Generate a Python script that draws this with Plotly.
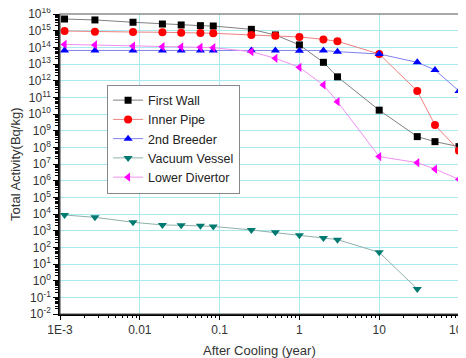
import plotly.graph_objects as go

# time after cooling (years)
t_all = [0.00114, 0.00274, 0.00822, 0.0192, 0.033, 0.0575, 0.0833,
         0.25, 0.5, 1, 2, 3, 10, 30, 50, 100]

first_wall = [5.0e15, 4.4e15, 3.2e15, 2.5e15, 2.2e15, 2.0e15, 1.9e15,
              1.2e15, 5.5e14, 1.4e14, 1.26e13, 1.7e12, 1.7e10, 4.4e8, 2.2e8, 1.1e8]
inner_pipe = [9.5e14, 8.7e14, 8.3e14, 8.0e14, 7.6e14, 7.3e14, 7.0e14,
              5.5e14, 5.0e14, 4.2e14, 3.0e14, 2.3e14, 4.0e13, 2.4e11, 2.2e9, 6.3e7]
breeder2 = [6.5e13, 6.5e13, 6.5e13, 6.5e13, 6.5e13, 6.5e13, 6.4e13,
            6.5e13, 6.5e13, 6.2e13, 6.5e13, 5.5e13, 4.0e13, 1.26e13, 4.4e12, 2.4e11]
vacuum_vessel = [8.7e3, 6.3e3, 3.2e3, 2.2e3, 2.1e3, 2.0e3, 1.8e3,
                 1.1e3, 800, 525, 360, 290, 50, 0.32]
lower_divertor = [1.5e14, 1.4e14, 1.2e14, 1.1e14, 1.05e14, 1.0e14, 9.5e13,
                  5.5e13, 2.2e13, 6.3e12, 5.5e11, 5.5e10, 2.8e7, 1.2e7, 5e6, 1.2e6]

x_tick_vals = [0.001, 0.01, 0.1, 1, 10, 100]
x_tick_text = ["1E-3", "0.01", "0.1", "1", "10", "100"]
y_exps = list(range(-2, 17))
x_title = "After Cooling (year)"
y_title = "Total Activity(Bq/kg)"

series = [
    ("First Wall", t_all, first_wall, "square", 7, "#000000", "#808080"),
    ("Inner Pipe", t_all, inner_pipe, "circle", 8, "#ff0000", "#f08080"),
    ("2nd Breeder", t_all, breeder2, "triangle-up", 8, "#0000ff", "#8080f0"),
    ("Vacuum Vessel", t_all[:len(vacuum_vessel)], vacuum_vessel, "triangle-down", 8, "#007a70", "#90b0ac"),
    ("Lower Divertor", t_all, lower_divertor, "triangle-left", 8, "#ff00ff", "#f090f0"),
]

fig = go.Figure()
for name, xs, ys, sym, sz, mc, lc in series:
    fig.add_trace(go.Scatter(
        x=xs, y=ys, name=name, mode="lines+markers",
        line=dict(color=lc, width=1),
        marker=dict(symbol=sym, color=mc, size=sz, line=dict(width=0)),
    ))

font_family = "Arial, Liberation Sans, sans-serif"
grid_c = "#a8eaf0"

# page body has an 8px default margin; figure is sized to fill the rest
fig.update_layout(
    width=458, height=350,
    margin=dict(l=52, r=7, t=6, b=44),
    paper_bgcolor="white", plot_bgcolor="white",
    font=dict(family=font_family, color="#222222", size=12),
    showlegend=True,
    legend=dict(x=0.118, y=0.765, xanchor="left", yanchor="top",
                bgcolor="white", bordercolor="#888888", borderwidth=1,
                font=dict(size=12.5, color="#222222"),
                tracegroupgap=0, itemwidth=30),
)

fig.update_xaxes(
    type="log", range=[-3, 2], automargin=False,
    tickvals=x_tick_vals, ticktext=x_tick_text, ticklabeloverflow="allow",
    ticks="outside", ticklen=4, tickwidth=1, tickcolor="#000",
    minor=dict(ticks="outside", ticklen=2.5, tickcolor="#000",
               tickvals=[m * 10 ** e for e in range(-3, 2) for m in range(2, 10)],
               showgrid=False),
    showgrid=True, gridcolor=grid_c, gridwidth=1,
    showline=True, linecolor="#000", linewidth=1.5,
    zeroline=False,
    tickfont=dict(size=12, color="#333333"),
)

fig.update_yaxes(
    type="log", range=[-2, 16], automargin=False, ticklabeloverflow="allow",
    tickvals=[10 ** e for e in y_exps],
    ticktext=["10<sup>%d</sup>" % e for e in y_exps],
    ticks="outside", ticklen=5, tickwidth=1, tickcolor="#000",
    minor=dict(ticks="outside", ticklen=3, tickcolor="#000",
               tickvals=[m * 10.0 ** e for e in range(-2, 16) for m in range(2, 10)],
               showgrid=False),
    showgrid=True, gridcolor=grid_c, gridwidth=1,
    showline=True, linecolor="#000", linewidth=1.5,
    zeroline=False,
    tickfont=dict(size=12, color="#333333"),
)

# axis titles
fig.add_annotation(text=x_title, xref="paper", yref="paper", x=0.5, y=-0.12,
                   xanchor="center", yanchor="middle", showarrow=False,
                   font=dict(size=13, color="#333333"))
fig.add_annotation(text=y_title, xref="paper", yref="paper", x=-0.113, y=0.5,
                   xanchor="center", yanchor="middle", showarrow=False, textangle=-90,
                   font=dict(size=13, color="#333333"))

# top/right frame
fig.add_shape(type="rect", xref="paper", yref="paper", x0=0, x1=1, y0=0, y1=1,
              line=dict(color="#555555", width=1.2), layer="above")

fig.write_html("out.html")
